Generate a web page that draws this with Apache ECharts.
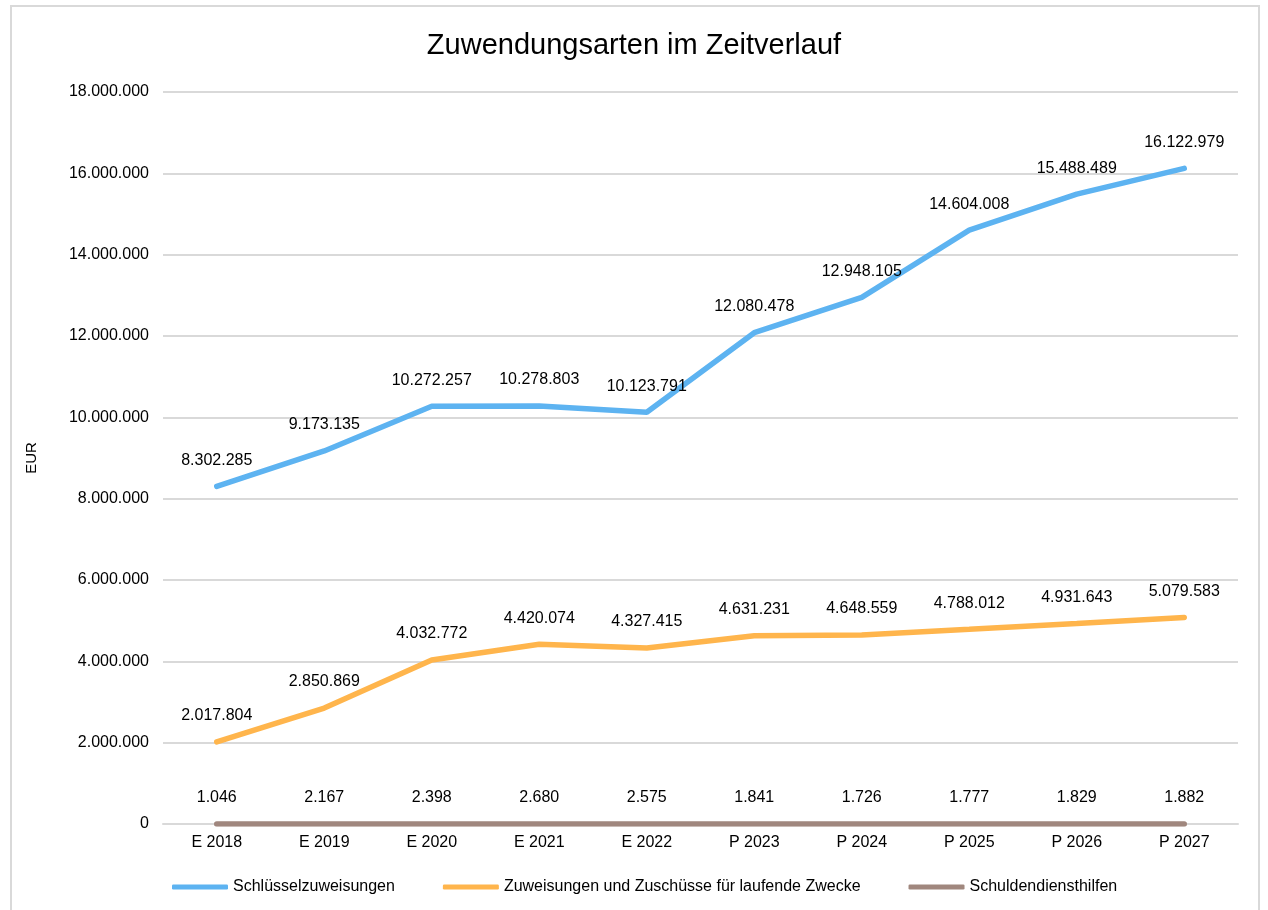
<!DOCTYPE html>
<html>
<head>
<meta charset="utf-8">
<script src="https://cdn.jsdelivr.net/npm/echarts@6/dist/echarts.min.js"></script>
<style>
  html, body { margin: 0; padding: 0; background: #fff; }
  #frame { position: absolute; left: 10px; top: 5px; width: 1250px; height: 910px; border: 2px solid #d9d9d9; box-sizing: border-box; }
  #chart { position: absolute; left: 0; top: 0; width: 1268px; height: 910px; }
</style>
</head>
<body>
<div id="frame"></div>
<div id="chart"></div>
<script>
// Kategorien (E = Ergebnis, P = Plan)
const jahre = ['E 2018', 'E 2019', 'E 2020', 'E 2021', 'E 2022', 'P 2023', 'P 2024', 'P 2025', 'P 2026', 'P 2027']

// Werte in EUR
const schluesselzuweisungen = [8302285, 9173135, 10272257, 10278803, 10123791, 12080478, 12948105, 14604008, 15488489, 16122979]
const laufendeZwecke = [2017804, 2850869, 4032772, 4420074, 4327415, 4631231, 4648559, 4788012, 4931643, 5079583]
const schuldendiensthilfen = [1046, 2167, 2398, 2680, 2575, 1841, 1726, 1777, 1829, 1882]

const fmt = v => Math.round(v).toString().replace(/\B(?=(\d{3})+(?!\d))/g, '.')

let mkSeries = (name, data, color) => ({
  name: name,
  type: 'line',
  data: data,
  // unsichtbare Symbole, damit die Labels gezeichnet werden
  symbol: 'circle',
  symbolSize: 0,
  showSymbol: true,
  lineStyle: { width: 5.5, color: color, cap: 'round' },
  itemStyle: { color: color },
  label: {
    show: true,
    position: 'top',
    distance: 18,
    color: '#000',
    fontSize: 16,
    fontFamily: 'Liberation Sans, Arial, sans-serif',
    formatter: p => fmt(p.value)
  },
  labelLayout: { hideOverlap: false }
})

const chart = echarts.init(document.getElementById('chart'))
chart.setOption({
  animation: false,
  textStyle: { fontFamily: 'Liberation Sans, Arial, sans-serif' },
  title: {
    text: 'Zuwendungsarten im Zeitverlauf',
    left: 'center',
    top: 26,
    textStyle: { fontSize: 29, fontWeight: 'normal', color: '#000' }
  },
  grid: { left: 163, right: 30, top: 92, bottom: 86 },
  legend: {
    bottom: 10,
    left: 167,
    itemGap: 48,
    itemWidth: 56,
    itemHeight: 5,
    icon: 'roundRect',
    textStyle: { fontSize: 16, color: '#000' },
    data: ['Schlüsselzuweisungen', 'Zuweisungen und Zuschüsse für laufende Zwecke', 'Schuldendiensthilfen']
  },
  xAxis: {
    type: 'category',
    data: jahre,
    boundaryGap: true,
    axisLine: { lineStyle: { color: '#d9d9d9', width: 2 } },
    axisTick: { show: false },
    axisLabel: { color: '#000', fontSize: 16, margin: 11 }
  },
  yAxis: {
    type: 'value',
    min: 0,
    max: 18000000,
    interval: 2000000,
    name: 'EUR',
    nameLocation: 'middle',
    nameRotate: 90,
    nameGap: 124,
    nameTextStyle: { color: '#000', fontSize: 15 },
    axisLine: { show: false },
    axisTick: { show: false },
    splitLine: { lineStyle: { color: '#d9d9d9', width: 2 } },
    axisLabel: { color: '#000', fontSize: 16, margin: 14, formatter: v => fmt(v) }
  },
  series: [
    mkSeries('Schlüsselzuweisungen', schluesselzuweisungen, '#5db3f1'),
    mkSeries('Zuweisungen und Zuschüsse für laufende Zwecke', laufendeZwecke, '#ffb54c'),
    mkSeries('Schuldendiensthilfen', schuldendiensthilfen, '#a0877e')
  ]
})
</script>
</body>
</html>
